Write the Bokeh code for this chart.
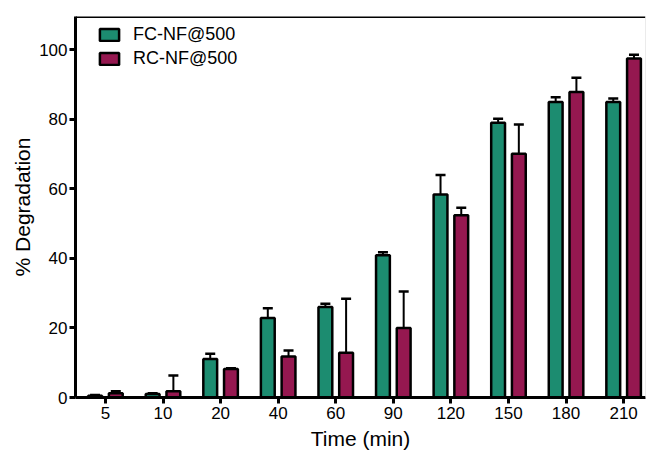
from bokeh.plotting import figure
from bokeh.models import (ColumnDataSource, Whisker, TeeHead, Legend, LegendItem,
                          FixedTicker, Span)
from bokeh.embed import file_html
from bokeh.resources import INLINE

# Sampling times (min) and % degradation, mean and upper error
times = ["5", "10", "20", "40", "60", "90", "120", "150", "180", "210"]
fc_mean = [0.5, 1.0, 11.1, 22.9, 26.0, 40.9, 58.4, 79.0, 85.0, 85.0]
fc_err = [0.2, 0.2, 1.5, 2.8, 1.0, 0.9, 5.6, 1.2, 1.4, 1.0]
rc_mean = [1.2, 1.8, 8.2, 11.8, 12.9, 20.0, 52.4, 70.1, 87.9, 97.5]
rc_err = [0.6, 4.5, 0.2, 1.7, 15.5, 10.5, 2.2, 8.4, 4.1, 1.1]
series_names = ["FC-NF@500", "RC-NF@500"]
series_colors = ["#1c8c70", "#951850"]

FONT = "Liberation Sans"
offset = 0.18
bar_w = 0.24

idx = list(range(len(times)))
fc_src = ColumnDataSource(dict(
    x=[i - offset for i in idx], top=fc_mean,
    hi=[m + e for m, e in zip(fc_mean, fc_err)]))
rc_src = ColumnDataSource(dict(
    x=[i + offset for i in idx], top=rc_mean,
    hi=[m + e for m, e in zip(rc_mean, rc_err)]))

p = figure(width=647, height=452, output_backend="svg", toolbar_location=None,
           x_range=(-0.52, 9.38), y_range=(0, 109.6),
           min_border_left=75, min_border_right=2, min_border_top=16,
           min_border_bottom=55, background_fill_color="white",
           border_fill_color="white")
p.outline_line_color = None
p.grid.visible = False

# error bars first so the bar outlines sit on top of the stems
for src in (fc_src, rc_src):
    w = Whisker(source=src, base="x", lower="top", upper="hi",
                line_color="black", line_width=2,
                lower_head=None,
                upper_head=TeeHead(size=10, line_color="black", line_width=2.5))
    p.add_layout(w)

r_fc = p.vbar(x="x", top="top", width=bar_w, source=fc_src,
              fill_color=series_colors[0], line_color="black", line_width=2.5)
r_rc = p.vbar(x="x", top="top", width=bar_w, source=rc_src,
              fill_color=series_colors[1], line_color="black", line_width=2.5)

# axes
xa = p.xaxis[0]
xa.ticker = FixedTicker(ticks=idx)
xa.major_label_overrides = {i: t for i, t in zip(idx, times)}
xa.axis_label = "Time (min)"
ya = p.yaxis[0]
ya.ticker = FixedTicker(ticks=[0, 20, 40, 60, 80, 100])
ya.axis_label = "% Degradation"
for ax in (xa, ya):
    ax.axis_line_width = 3
    ax.axis_line_color = "black"
    ax.major_tick_line_width = 3
    ax.major_tick_line_color = "black"
    ax.major_tick_in = 0
    ax.major_tick_out = 6
    ax.minor_tick_line_color = None
    ax.major_label_text_font = FONT
    ax.major_label_text_font_size = "17px"
    ax.major_label_text_color = "black"
    ax.axis_label_text_font = FONT
    ax.axis_label_text_font_size = "21px"
    ax.axis_label_text_font_style = "normal"
    ax.axis_label_text_color = "black"
xa.major_label_standoff = 3
xa.axis_label_standoff = 5
ya.major_label_standoff = 2
ya.axis_label_standoff = 2

# top frame line and faint right edge
p.add_layout(Span(location=109.6, dimension="width", line_color="black", line_width=3))
p.add_layout(Span(location=9.38, dimension="height", line_color="#d8d8d8", line_width=1))

legend = Legend(items=[LegendItem(label=series_names[0], renderers=[r_fc]),
                       LegendItem(label=series_names[1], renderers=[r_rc])],
                location=(22, 328), orientation="vertical",
                glyph_width=24, glyph_height=15, label_height=15,
                spacing=3, padding=0, margin=0, label_standoff=12,
                label_text_font=FONT, label_text_font_size="18px",
                label_text_color="black",
                border_line_color=None, background_fill_alpha=0)
p.add_layout(legend, "center")

open("out.html", "w").write(file_html(p, INLINE))
